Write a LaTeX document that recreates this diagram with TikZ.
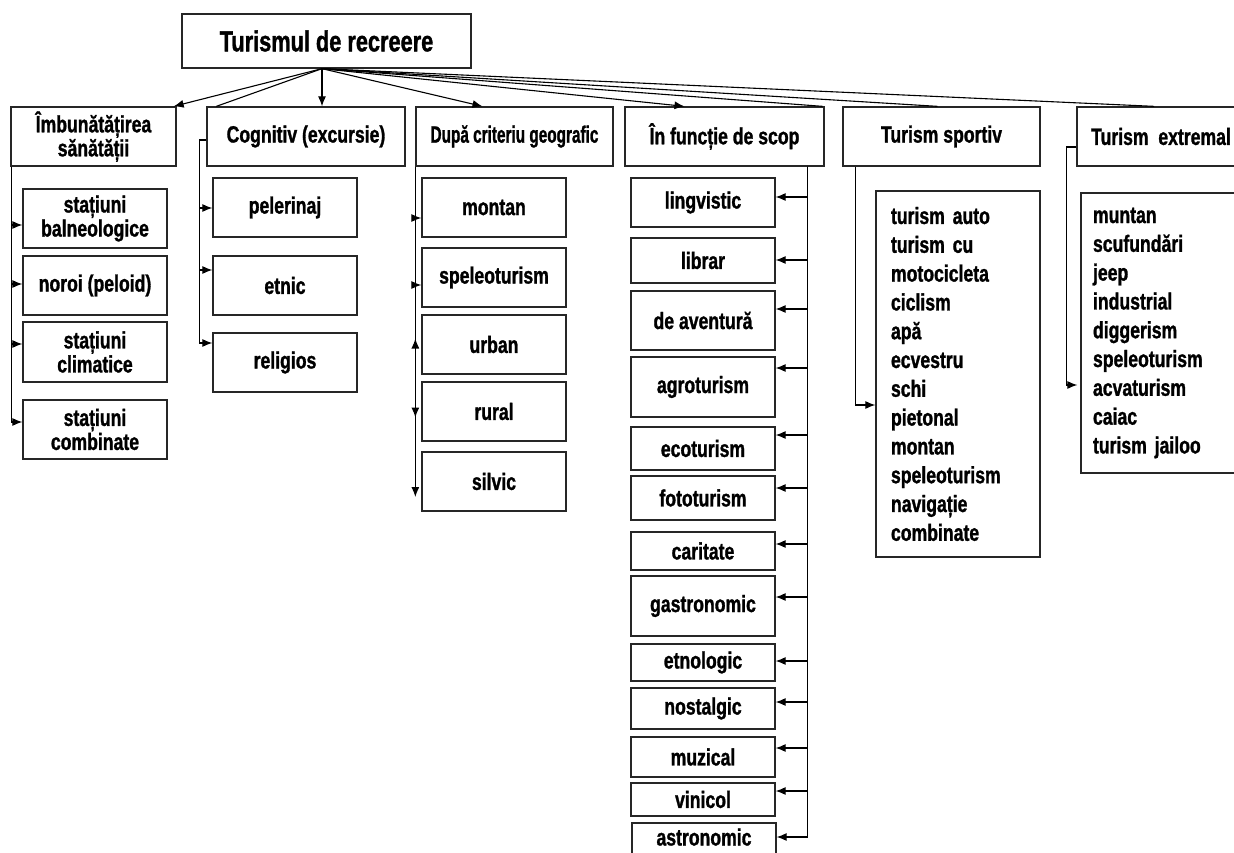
\documentclass[tikz,border=0pt]{standalone}
\usepackage{fontspec}
\setmainfont{Liberation Sans}[FakeStretch=0.75, BoldFeatures={FakeBold=1.2}]
\usetikzlibrary{arrows.meta,calc}

\tikzset{
  box/.style={draw=black!85, line width=1.3pt, fill=white, inner sep=0pt, align=center,
              font=\bfseries\fontsize{23.5}{24}\selectfont},
  top/.style={box, minimum height=59},
  sub/.style={box, minimum width=144},
  listbox/.style={box, align=left, font=\bfseries\fontsize{23.5}{28.8}\selectfont},
  lnk/.style={line width=1.1pt, -{Latex[length=10pt,width=8pt]}},
  bare/.style={line width=1.1pt},
}

\begin{document}
\begin{tikzpicture}[x=1pt,y=-1pt]
    \useasboundingbox (0,0) rectangle (1234,853);

    % root and first level
    \node[box, minimum width=289, minimum height=54, font=\bfseries\fontsize{29}{30}\selectfont] (root) at (326.5,41) {Turismul de recreere};

    \node[top, minimum width=165] (imb) at (93.5,136.5) {Îmbunătățirea\\sănătății};
    \node[top, minimum width=198] (cog) at (306,136.5) {Cognitiv (excursie)};
    \node[top, minimum width=197] (geo) at (514.5,136.5) {\scalebox{0.87}[1]{După criteriu geografic}};
    \node[top, minimum width=199] (scop) at (724.5,136.5) {În funcție de scop};
    \node[top, minimum width=197] (sport) at (941.5,136.5) {Turism sportiv};
    \node[top, minimum width=168] (extr) at (1161,136.5) {Turism~ extremal};

    \coordinate (hub) at ($(root.south)+(-4.5,0)$);
    \draw[lnk] (hub) -- ($(imb.north east)+(-3,0)$);
    \draw[bare] (hub) -- ($(cog.north west)+(10,0)$);
    \draw[lnk] (hub) -- (hub |- cog.north);
    \draw[lnk] (hub) -- ($(geo.north)+(-32,0)$);
    \draw[lnk] (hub) -- ($(scop.north)+(-40,0)$);
    \draw[bare] (hub) -- ($(scop.north east)+(-2,0)$);
    \draw[bare] (hub) -- ($(sport.north)+(-4,0)$);
    \draw[bare] (hub) -- ($(extr.north)+(-7,0)$);

    % Imbunatatirea sanatatii
    \node[sub, minimum height=59] (bal) at (95,218.5) {stațiuni\\balneologice};
    \node[sub, minimum height=59] (nor) at (95,285.5) {noroi (peloid)};
    \node[sub, minimum height=60] (cli) at (95,352) {stațiuni\\climatice};
    \node[sub, minimum height=59] (com) at (95,429.5) {stațiuni\\combinate};

    \coordinate (itrunk) at ($(imb.south west)+(1,0)$);
    \draw[lnk] (itrunk) |- ($(bal.west)+(0,6.5)$);
    \draw[lnk] (itrunk) |- ($(nor.west)+(0,-1.5)$);
    \draw[lnk] (itrunk) |- ($(cli.west)+(0,-8)$);
    \draw[lnk] (itrunk) |- ($(com.west)+(0,-7.5)$);

    % Cognitiv
    \node[sub, minimum height=59] (pel) at (285,207.5) {pelerinaj};
    \node[sub, minimum height=59] (etn) at (285,285.5) {etnic};
    \node[sub, minimum height=59] (rel) at (285,362.5) {religios};

    \coordinate (ctrunk) at ($(cog.west)+(-7,3.5)$);
    \draw[bare] ($(cog.west)+(0,3.5)$) -- (ctrunk);
    \draw[lnk] (ctrunk) |- ($(pel.west)+(0,0.5)$);
    \draw[lnk] (ctrunk) |- ($(etn.west)+(0,-15.5)$);
    \draw[lnk] (ctrunk) |- ($(rel.west)+(0,-19.5)$);

    % Dupa criteriu geografic
    \node[sub, minimum height=59] (mon) at (494,207.5) {montan};
    \node[sub, minimum height=59] (spe) at (494,277.5) {speleoturism};
    \node[sub, minimum height=59] (urb) at (494,344.5) {urban};
    \node[sub, minimum height=59] (rur) at (494,411.5) {rural};
    \node[sub, minimum height=59] (sil) at (494,481.5) {silvic};

    \coordinate (gtrunk) at (geo.south west);
    \draw[lnk] (gtrunk) |- ($(mon.west)+(0,10.5)$);
    \draw[lnk] (gtrunk) |- ($(spe.west)+(0,7.5)$);
    \draw[lnk] (gtrunk) -- ($(sil.west -| gtrunk)+(0,15.5)$);
    \draw[lnk] ($(urb.west -| gtrunk)+(0,8)$) -- ($(urb.west -| gtrunk)+(0,-6)$);
    \draw[lnk] ($(rur.west -| gtrunk)+(0,-6)$) -- ($(rur.west -| gtrunk)+(0,6)$);

    % In functie de scop
    \node[sub, minimum height=49] (lin) at (703,202.5) {lingvistic};
    \node[sub, minimum height=45] (lib) at (703,260.5) {librar};
    \node[sub, minimum height=59] (ave) at (703,320.5) {de aventură};
    \node[sub, minimum height=60] (agr) at (703,387) {agroturism};
    \node[sub, minimum height=43] (eco) at (703,448.5) {ecoturism};
    \node[sub, minimum height=44] (fot) at (703,498) {fototurism};
    \node[sub, minimum height=38] (car) at (703,551) {caritate};
    \node[sub, minimum height=60] (gas) at (703,606) {gastronomic};
    \node[sub, minimum height=37] (etl) at (703,662.5) {etnologic};
    \node[sub, minimum height=41] (nos) at (703,708.5) {nostalgic};
    \node[sub, minimum height=40] (muz) at (703,757) {muzical};
    \node[sub, minimum height=33] (vin) at (703,799.5) {vinicol};
    \node[sub, minimum height=47, text height=17, text depth=19] (ast) at (704,846.5) {astronomic};

    \coordinate (strunk) at ($(scop.south west)+(183,0)$);
    \draw[lnk] (strunk) |- ($(lin.east)+(0,-5.5)$);
    \draw[lnk] (strunk) |- ($(lib.east)+(0,-0.5)$);
    \draw[lnk] (strunk) |- ($(ave.east)+(0,-11.5)$);
    \draw[lnk] (strunk) |- ($(agr.east)+(0,-19)$);
    \draw[lnk] (strunk) |- ($(eco.east)+(0,-13.5)$);
    \draw[lnk] (strunk) |- ($(fot.east)+(0,-10)$);
    \draw[lnk] (strunk) |- ($(car.east)+(0,-7)$);
    \draw[lnk] (strunk) |- ($(gas.east)+(0,-9)$);
    \draw[lnk] (strunk) |- ($(etl.east)+(0,-1.5)$);
    \draw[lnk] (strunk) |- ($(nos.east)+(0,-6.5)$);
    \draw[lnk] (strunk) |- ($(muz.east)+(0,-9)$);
    \draw[lnk] (strunk) |- ($(vin.east)+(0,-8.5)$);
    \draw[lnk] (strunk) |- ($(ast.east)+(0,-9.5)$);

    % Turism sportiv
    \node[listbox, minimum height=366, text width=134, inner xsep=15] (slist) at (958,374)
        {turism auto\\turism cu\\motocicleta\\ciclism\\apă\\ecvestru\\schi\\pietonal\\montan\\speleoturism\\navigație\\combinate};
    \draw[lnk] ($(sport.south west)+(13,0)$) |- ($(slist.west)+(0,31)$);

    % Turism extremal
    \node[listbox, minimum height=280, text width=145, inner xsep=12] (elist) at (1165.5,333)
        {muntan\\scufundări\\jeep\\industrial\\diggerism\\speleoturism\\acvaturism\\caiac\\turism jailoo};
    \coordinate (etrunk) at ($(extr.west)+(-10,10.5)$);
    \draw[bare] ($(extr.west)+(0,10.5)$) -- (etrunk);
    \draw[lnk] (etrunk) |- ($(elist.west)+(-3,52)$);
\end{tikzpicture}
\end{document}
